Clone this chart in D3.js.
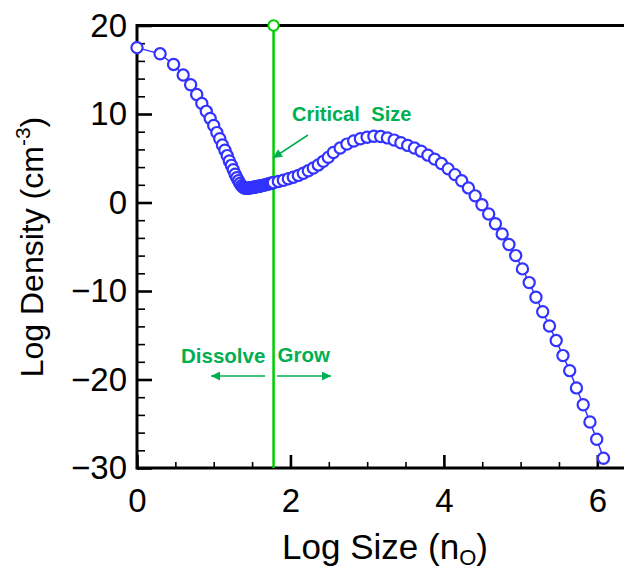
<!DOCTYPE html>
<html>
<head>
<meta charset="utf-8">
<script src="https://cdn.jsdelivr.net/npm/d3@7"></script>
<style>
  html, body { margin: 0; padding: 0; background: #fff; }
  svg { display: block; font-family: "Liberation Sans", Arial, sans-serif; }
</style>
</head>
<body>
<svg id="chart" width="624" height="571"></svg>
<script>
// Cluster size distribution: log10 of cluster size vs log10 of number density
const logSize = [
  0, 0.301, 0.477, 0.602, 0.699, 0.778, 0.845, 0.903, 0.954, 1.0,
  1.041, 1.079, 1.114, 1.146, 1.176, 1.204, 1.230, 1.255, 1.279, 1.301,
  1.322, 1.342, 1.362, 1.380, 1.398, 1.415, 1.431, 1.447, 1.462, 1.477,
  1.491, 1.505, 1.519, 1.531, 1.544, 1.556, 1.568, 1.580, 1.591, 1.602,
  1.623, 1.643, 1.663, 1.681, 1.699, 1.716, 1.732, 1.748, 1.763, 1.778,
  1.843, 1.908, 1.973, 2.038, 2.103, 2.168, 2.233, 2.298, 2.363, 2.428, 2.493,
  2.56, 2.648, 2.736, 2.824, 2.912, 3.0, 3.088, 3.176, 3.264, 3.352,
  3.44, 3.528, 3.616, 3.704, 3.792, 3.88, 3.968, 4.056, 4.144, 4.232,
  4.32, 4.408, 4.496, 4.584, 4.672, 4.76, 4.848, 4.936, 5.024, 5.112,
  5.2, 5.288, 5.376, 5.464, 5.552, 5.64, 5.728, 5.816, 5.904, 5.992, 6.08
];
const logDensity = [
  17.5, 16.8, 15.6, 14.4, 13.3, 12.2, 11.2, 10.3, 9.5, 8.7,
  7.9, 7.2, 6.5, 5.9, 5.3, 4.7, 4.2, 3.7, 3.2, 2.8,
  2.45, 2.15, 1.9, 1.75, 1.65, 1.6, 1.6, 1.62, 1.64, 1.66,
  1.68, 1.7, 1.72, 1.74, 1.76, 1.78, 1.8, 1.82, 1.84, 1.86,
  1.9, 1.94, 1.98, 2.02, 2.06, 2.1, 2.14, 2.18, 2.21, 2.24,
  2.38, 2.52, 2.68, 2.86, 3.06, 3.3, 3.58, 3.9, 4.25, 4.65, 5.1,
  5.65, 6.15, 6.6, 6.95, 7.2, 7.38, 7.48, 7.45, 7.3, 7.05,
  6.75, 6.45, 6.15, 5.8, 5.35, 4.9, 4.4, 3.8, 3.15, 2.45,
  1.65, 0.75, -0.25, -1.3, -2.4, -3.55, -4.75, -6.0, -7.5, -9.05,
  -10.7, -12.35, -13.95, -15.6, -17.3, -19.0, -20.95, -22.85, -24.8, -26.75, -28.9
];

// Critical cluster size (log10)
const criticalLogSize = 1.78;

const xMajorTicks = [0, 2, 4, 6];
const xMinorTicks = [0.5, 1, 1.5, 2.5, 3, 3.5, 4.5, 5, 5.5, 6.5];
const yMajorTicks = [-30, -20, -10, 0, 10, 20];
const yMinorTicks = [-28, -26, -24, -22, -18, -16, -14, -12, -8, -6, -4, -2, 2, 4, 6, 8, 12, 14, 16, 18];

const svg = d3.select("#chart");
const plotLeft = 137, plotTop = 25.5, plotBottom = 468;
const x = d3.scaleLinear().domain([0, 6.4]).range([plotLeft, plotLeft + 6.4 * 76.72]);
const y = d3.scaleLinear().domain([-30, 20]).range([plotBottom, plotTop]);

const green = "#00cc00";
const annot = "#00b050";
const blue = "#3333ff";

// Minor ticks
svg.append("g")
  .attr("transform", `translate(${plotLeft},0)`)
  .call(d3.axisLeft(y).tickValues(yMinorTicks).tickSize(-8).tickFormat(""))
  .call(g => g.select(".domain").remove())
  .call(g => g.selectAll("line").attr("stroke", "#000").attr("stroke-width", 1.6));
svg.append("g")
  .attr("transform", `translate(0,${plotBottom})`)
  .call(d3.axisBottom(x).tickValues(xMinorTicks).tickSize(-6).tickFormat(""))
  .call(g => g.select(".domain").remove())
  .call(g => g.selectAll("line").attr("stroke", "#000").attr("stroke-width", 1.6));

// Major ticks with labels
svg.append("g")
  .attr("transform", `translate(${plotLeft},0)`)
  .call(d3.axisLeft(y).tickValues(yMajorTicks).tickSize(-15).tickPadding(10).tickFormat(d3.format("d")))
  .call(g => g.select(".domain").remove())
  .call(g => g.selectAll("line").attr("stroke", "#000").attr("stroke-width", 2.6))
  .call(g => g.selectAll("text").attr("fill", "#000").attr("font-size", 33).attr("font-family", "Liberation Sans, Arial, sans-serif"));
svg.append("g")
  .attr("transform", `translate(0,${plotBottom})`)
  .call(d3.axisBottom(x).tickValues(xMajorTicks).tickSize(-13).tickPadding(21).tickFormat(d3.format("d")))
  .call(g => g.select(".domain").remove())
  .call(g => g.selectAll("line").attr("stroke", "#000").attr("stroke-width", 2.6))
  .call(g => g.selectAll("text").attr("fill", "#000").attr("font-size", 33).attr("font-family", "Liberation Sans, Arial, sans-serif"));

// Frame lines
svg.append("line").attr("x1", plotLeft).attr("x2", x(6.4)).attr("y1", plotTop).attr("y2", plotTop)
  .attr("stroke", "#000").attr("stroke-width", 2.8);
svg.append("line").attr("x1", plotLeft).attr("x2", x(6.4)).attr("y1", plotBottom).attr("y2", plotBottom)
  .attr("stroke", "#000").attr("stroke-width", 3);
svg.append("line").attr("x1", plotLeft).attr("x2", plotLeft).attr("y1", plotTop - 1.4).attr("y2", plotBottom + 1.5)
  .attr("stroke", "#000").attr("stroke-width", 3);

// Critical size line
svg.append("line")
  .attr("x1", x(criticalLogSize)).attr("x2", x(criticalLogSize))
  .attr("y1", y(20)).attr("y2", y(-30))
  .attr("stroke", green).attr("stroke-width", 2.5);

// Distribution: connecting line and open circle markers
const pts = logSize.map((v, i) => [v, logDensity[i]]);
svg.append("path")
  .datum(pts)
  .attr("fill", "none")
  .attr("stroke", blue)
  .attr("stroke-width", 1.5)
  .attr("d", d3.line().x(d => x(d[0])).y(d => y(d[1])));
svg.append("g").selectAll("circle")
  .data(pts)
  .join("circle")
  .attr("cx", d => x(d[0]))
  .attr("cy", d => y(d[1]))
  .attr("r", 5.6)
  .attr("fill", "#fff")
  .attr("stroke", blue)
  .attr("stroke-width", 2.2);

// Marker at top of critical line
svg.append("circle")
  .attr("cx", x(criticalLogSize)).attr("cy", y(20)).attr("r", 5.2)
  .attr("fill", "#fff").attr("stroke", green).attr("stroke-width", 2);

// Arrowhead definition
const defs = svg.append("defs");
defs.append("marker")
  .attr("id", "head")
  .attr("viewBox", "0 0 10 10")
  .attr("refX", 10).attr("refY", 5)
  .attr("markerWidth", 7).attr("markerHeight", 6)
  .attr("markerUnits", "strokeWidth")
  .attr("orient", "auto")
  .append("path").attr("d", "M0,0 L10,5 L0,10 Z").attr("fill", annot);

// Annotations
svg.append("text").attr("x", 292).attr("y", 121)
  .attr("fill", annot).attr("font-size", 20).attr("font-weight", "bold")
  .attr("word-spacing", 6)
  .text("Critical Size");
svg.append("line").attr("x1", 308).attr("y1", 135).attr("x2", 273).attr("y2", 158)
  .attr("stroke", annot).attr("stroke-width", 1.5).attr("marker-end", "url(#head)");

svg.append("text").attr("x", 181).attr("y", 363)
  .attr("fill", annot).attr("font-size", 20.5).attr("font-weight", "bold")
  .text("Dissolve");
svg.append("text").attr("x", 277.5).attr("y", 362)
  .attr("fill", annot).attr("font-size", 20.5).attr("font-weight", "bold")
  .text("Grow");
svg.append("line").attr("x1", 265).attr("y1", 376).attr("x2", 211).attr("y2", 376)
  .attr("stroke", annot).attr("stroke-width", 1.5).attr("marker-end", "url(#head)");
svg.append("line").attr("x1", 277).attr("y1", 376).attr("x2", 331).attr("y2", 376)
  .attr("stroke", annot).attr("stroke-width", 1.5).attr("marker-end", "url(#head)");

// Axis titles
const xt = svg.append("text").attr("x", 385).attr("y", 559)
  .attr("text-anchor", "middle").attr("font-size", 35).attr("fill", "#000");
xt.append("tspan").text("Log Size (n");
xt.append("tspan").attr("font-size", 22).attr("dy", 6).text("O");
xt.append("tspan").attr("dy", -6).text(")");

const yt = svg.append("text")
  .attr("transform", "translate(43,247) rotate(-90)")
  .attr("text-anchor", "middle").attr("font-size", 32).attr("fill", "#000");
yt.append("tspan").text("Log Density (cm");
yt.append("tspan").attr("font-size", 21).attr("dy", -13).text("-3");
yt.append("tspan").attr("dy", 13).text(")");
</script>
</body>
</html>
